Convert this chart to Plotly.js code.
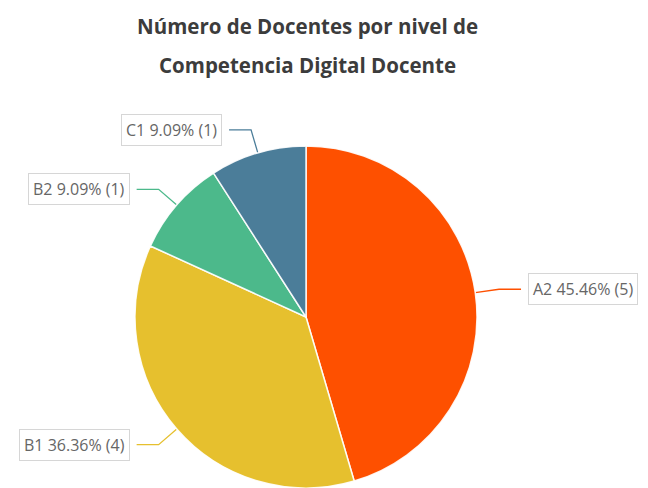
<!DOCTYPE html>
<html>
<head>
<meta charset="utf-8">
<script src="https://cdn.plot.ly/plotly-3.0.1.min.js"></script>
<style>html,body{margin:0;padding:0;background:#fff;}#chart{width:648px;height:488px;}</style>
</head>
<body>
<div id="chart"></div>
<script>
// ---- data ----
const labels = ['A2', 'B1', 'B2', 'C1'];
const values = [5, 4, 1, 1];
const percents = ['45.46%', '36.36%', '9.09%', '9.09%'];
const colors = ['#FE5000', '#E6C02E', '#4CB98B', '#4B7D99'];
const titleLines = ['Número de Docentes por nivel de', 'Competencia Digital Docente'];

// ---- layout geometry (pixels) ----
const W = 648, H = 488;
const cx = 306, cy = 317, R = 171;
const elbowOut = 24, horiz = 22, gap = 7;

const total = values.reduce((a, b) => a + b, 0);
const traces = [{
  type: 'pie',
  labels: labels,
  values: values,
  sort: false,
  direction: 'clockwise',
  rotation: 0,
  marker: {colors: colors, line: {color: 'rgba(255,255,255,0.9)', width: 1.5}},
  textinfo: 'none',
  hoverinfo: 'none',
  showlegend: false,
  domain: {x: [(cx - R) / W, (cx + R) / W], y: [(H - cy - R) / H, (H - cy + R) / H]}
}];

const annotations = [];
let cum = 0;
values.forEach((v, i) => {
  const a0 = cum / total * 2 * Math.PI;
  cum += v;
  const a1 = cum / total * 2 * Math.PI;
  const mid = (a0 + a1) / 2;
  const s = Math.sin(mid), c = Math.cos(mid);
  const p0 = [cx + R * s, cy - R * c];
  const p1 = [cx + (R + elbowOut) * s, cy - (R + elbowOut) * c];
  const dir = s >= 0 ? 1 : -1;
  const p2 = [p1[0] + dir * horiz, p1[1]];
  traces.push({
    type: 'scatter', mode: 'lines',
    x: [p0[0], p1[0], p2[0]], y: [p0[1], p1[1], p2[1]],
    line: {color: colors[i], width: 1.3},
    hoverinfo: 'skip', showlegend: false, xaxis: 'x', yaxis: 'y'
  });
  annotations.push({
    xref: 'x', yref: 'y', x: p2[0] + dir * gap, y: p2[1],
    xanchor: dir > 0 ? 'left' : 'right', yanchor: 'middle',
    text: labels[i] + ' ' + percents[i] + ' (' + values[i] + ')',
    showarrow: false,
    font: {family: 'Open Sans, sans-serif', size: 16, color: '#666666'},
    bgcolor: '#ffffff', bordercolor: '#d6d6d6', borderwidth: 1, borderpad: 4
  });
});

const titleY = [26, 65];
titleLines.forEach((t, k) => {
  annotations.push({
    xref: 'paper', yref: 'paper', x: 307 / W, y: 1 - titleY[k] / H,
    xanchor: 'center', yanchor: 'middle', showarrow: false,
    text: '<b>' + t + '</b>',
    font: {family: 'Open Sans, sans-serif', size: 20.5, color: '#3c3c3c'}
  });
});

const layout = {
  width: W, height: H,
  margin: {l: 0, r: 0, t: 0, b: 0, pad: 0},
  paper_bgcolor: '#ffffff', plot_bgcolor: 'rgba(0,0,0,0)',
  xaxis: {range: [0, W], visible: false, fixedrange: true},
  yaxis: {range: [H, 0], visible: false, fixedrange: true},
  annotations: annotations,
  showlegend: false
};

Plotly.newPlot('chart', traces, layout, {displayModeBar: false, staticPlot: true});
</script>
</body>
</html>
